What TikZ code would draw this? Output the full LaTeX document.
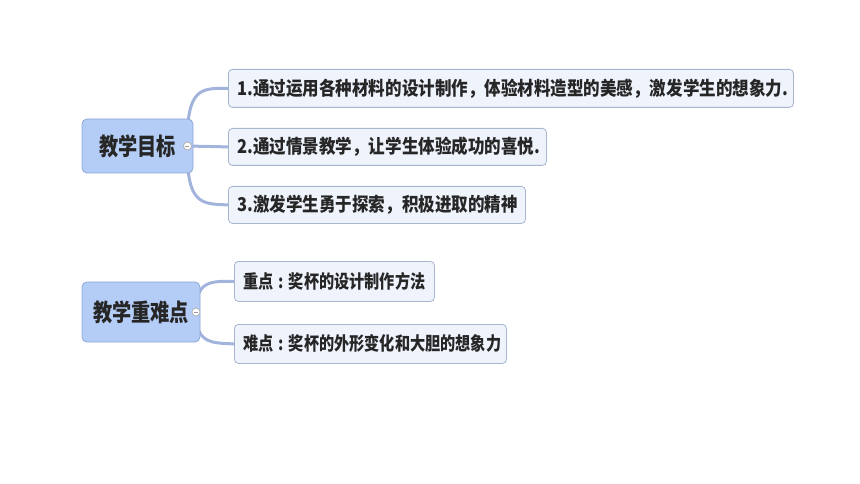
\documentclass[tikz,border=0pt]{standalone}
\usepackage{fontspec}
\newfontfamily\cjkroot{Noto Sans CJK SC}[FakeStretch=0.8]
\newfontfamily\cjk{Noto Sans CJK SC}[FakeStretch=0.87]
\newfontfamily\cjknarrow{Noto Sans CJK SC}[FakeStretch=0.82]
\newcommand{\midcolon}{\hbox to \fontcharwd\font`点{\hss:\hss}}
\definecolor{rootfill}{HTML}{B4CDF6}
\definecolor{rootdraw}{HTML}{8FA6D6}
\definecolor{kidfill}{HTML}{EEF3FC}
\definecolor{kiddraw}{HTML}{A8B5CE}
\definecolor{linkc}{HTML}{A3B4DC}
\definecolor{txt}{HTML}{262626}
\tikzset{
  rootbox/.style={draw=rootdraw, fill=rootfill, line width=0.8pt, rounded corners=5pt,
    font=\cjkroot\bfseries\fontsize{24}{28}\selectfont, text=txt, inner sep=0pt},
  kidbox/.style={draw=kiddraw, fill=kidfill, line width=0.8pt, rounded corners=4pt,
    anchor=north west, font=\cjk\bfseries\fontsize{19}{22}\selectfont, text=txt,
    inner xsep=9pt, inner ysep=0pt, align=left},
  kidbox2/.style={kidbox, font=\cjknarrow\bfseries\fontsize{18.5}{22}\selectfont},
  link/.style={draw=linkc, line width=3pt},
  knob/.style={circle, draw=gray!70, fill=white, line width=0.6pt, minimum size=8pt, inner sep=0pt},
}
\begin{document}
\begin{tikzpicture}[x=1pt,y=-1pt]
\useasboundingbox (0,0) rectangle (860,484);
% group 1
\node[kidbox, minimum width=565pt, minimum height=38pt, text width=547pt] (k1) at (228,69) {1.通过运用各种材料的设计制作，体验材料造型的美感，激发学生的想象力.};
\node[kidbox, minimum width=318pt, minimum height=37pt, text width=300pt] (k2) at (228,128) {2.通过情景教学，让学生体验成功的喜悦.};
\node[kidbox, minimum width=297pt, minimum height=37pt, text width=279pt] (k3) at (228,186) {3.激发学生勇于探索，积极进取的精神};
\coordinate (s1) at (187,146);
\draw[link] (s1) .. controls (187,88) and (200,88) .. (k1.west);
\draw[link] (s1) -- (k2.west);
\draw[link] (s1) .. controls (187,204) and (200,204) .. (k3.west);
\node[rootbox, minimum width=111pt, minimum height=54pt] (r1) at (137.5,146) {教学目标};
\node[knob] (c1) at (187.5,146) {};
\draw[gray!80, line width=0.6pt] (c1.west) ++(1.8,0) -- ++(4.4,0);
% group 2
\node[kidbox2, minimum width=200pt, minimum height=40pt, text width=182pt] (k4) at (234,261) {重点\midcolon 奖杯的设计制作方法};
\node[kidbox2, minimum width=272pt, minimum height=39pt, text width=254pt] (k5) at (234,324) {难点\midcolon 奖杯的外形变化和大胆的想象力};
\coordinate (s2) at (196,312);
\draw[link] (s2) .. controls (196,281) and (210,281) .. (k4.west);
\draw[link] (s2) .. controls (196,343) and (210,343) .. (k5.west);
\node[rootbox, minimum width=118pt, minimum height=60pt] (r2) at (141,312) {教学重难点};
\node[knob] (c2) at (196,312) {};
\draw[gray!80, line width=0.6pt] (c2.west) ++(1.8,0) -- ++(4.4,0);
\end{tikzpicture}
\end{document}
